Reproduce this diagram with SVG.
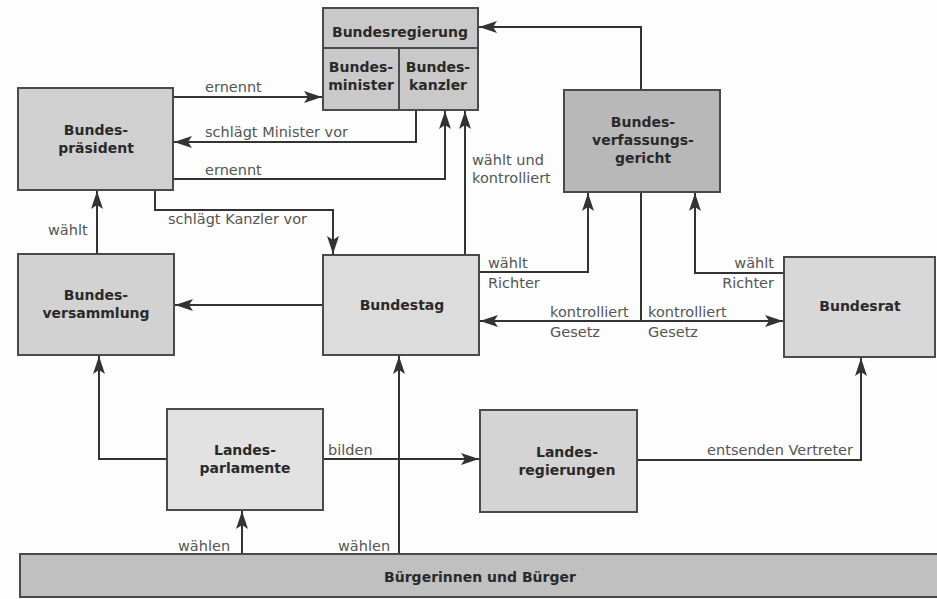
<svg xmlns="http://www.w3.org/2000/svg" width="937" height="599" viewBox="0 0 937 599">
<defs>
<marker id="ah" markerUnits="userSpaceOnUse" markerWidth="19" markerHeight="13" refX="18" refY="6.5" orient="auto">
<path d="M0,0.5 L18,6.5 L0,12.5 L4,6.5 z" fill="#333"/>
</marker>
<style>
.box{stroke:#4a4a4a;stroke-width:2}
.nt{font-family:"DejaVu Sans","Liberation Sans",sans-serif;font-weight:bold;font-size:14px;fill:#2a2a2a;text-anchor:middle}
.lb{font-family:"DejaVu Sans","Liberation Sans",sans-serif;font-size:14.5px;fill:#555}
.c{fill:none;stroke:#333;stroke-width:2;marker-end:url(#ah)}
</style>
</defs>
<rect width="937" height="599" fill="#fdfdfd"/>

<g id="connectors">
<path class="c" d="M173,97 H322"/>
<path class="c" d="M416,110 V142 H174"/>
<path class="c" d="M173,179 H445 V111"/>
<path class="c" d="M155,190 V210 H333 V254"/>
<path class="c" d="M97,254 V191"/>
<path class="c" d="M323,305 H175"/>
<path class="c" d="M465,255 V111"/>
<path class="c" d="M641,90 V27 H479"/>
<path class="c" d="M479,272 H588 V193"/>
<path class="c" d="M784,273 H695 V193"/>
<path class="c" d="M641,192 V321 H783"/>
<path class="c" d="M641,321 H480"/>
<path class="c" d="M167,459 H99 V356"/>
<path class="c" d="M323,459 H479"/>
<path class="c" d="M242,554 V511"/>
<path class="c" d="M399,554 V356"/>
<path class="c" d="M637,460 H861 V358"/>
<text class="lb" x="205" y="92">ernennt</text>
<text class="lb" x="205" y="137">schlägt Minister vor</text>
<text class="lb" x="205" y="175">ernennt</text>
<text class="lb" x="168" y="224">schlägt Kanzler vor</text>
<text class="lb" x="48" y="235">wählt</text>
<text class="lb" x="472" y="165">wählt und</text>
<text class="lb" x="472" y="183">kontrolliert</text>
<text class="lb" x="488" y="268">wählt</text>
<text class="lb" x="488" y="288">Richter</text>
<text class="lb" x="550" y="317">kontrolliert</text>
<text class="lb" x="550" y="337">Gesetz</text>
<text class="lb" x="648" y="317">kontrolliert</text>
<text class="lb" x="648" y="337">Gesetz</text>
<text class="lb" x="774" y="268" text-anchor="end">wählt</text>
<text class="lb" x="774" y="288" text-anchor="end">Richter</text>
<text class="lb" x="328" y="455">bilden</text>
<text class="lb" x="178" y="551">wählen</text>
<text class="lb" x="338" y="551">wählen</text>
<text class="lb" x="853" y="455" text-anchor="end">entsenden Vertreter</text>
</g>

<g id="bundesregierung">
<rect class="box" x="323" y="8" width="155" height="102" fill="#c9c9c9"/>
<line class="box" x1="323" y1="48" x2="478" y2="48"/>
<line class="box" x1="399" y1="48" x2="399" y2="110"/>
<text class="nt" x="400" y="37">Bundesregierung</text>
<text class="nt" x="361" y="72">Bundes-</text>
<text class="nt" x="361" y="90">minister</text>
<text class="nt" x="438" y="72">Bundes-</text>
<text class="nt" x="438" y="90">kanzler</text>
</g>

<g id="bundespraesident">
<rect class="box" x="18" y="88" width="155" height="102" fill="#d0d0d0"/>
<text class="nt" x="96" y="135">Bundes-</text>
<text class="nt" x="96" y="153">präsident</text>
</g>

<g id="bundesverfassungsgericht">
<rect class="box" x="564" y="90" width="156" height="102" fill="#b8b8b8"/>
<text class="nt" x="643" y="127">Bundes-</text>
<text class="nt" x="643" y="145">verfassungs-</text>
<text class="nt" x="643" y="163">gericht</text>
</g>

<g id="bundesversammlung">
<rect class="box" x="18" y="254" width="156" height="101" fill="#d2d2d2"/>
<text class="nt" x="96" y="300">Bundes-</text>
<text class="nt" x="96" y="318">versammlung</text>
</g>

<g id="bundestag">
<rect class="box" x="323" y="255" width="156" height="100" fill="#dcdcdc"/>
<text class="nt" x="402" y="310">Bundestag</text>
</g>

<g id="bundesrat">
<rect class="box" x="784" y="257" width="151" height="100" fill="#d8d8d8"/>
<text class="nt" x="860" y="311">Bundesrat</text>
</g>

<g id="landesparlamente">
<rect class="box" x="167" y="409" width="156" height="101" fill="#e2e2e2"/>
<text class="nt" x="245" y="455">Landes-</text>
<text class="nt" x="245" y="473">parlamente</text>
</g>

<g id="landesregierungen">
<rect class="box" x="480" y="410" width="157" height="102" fill="#d4d4d4"/>
<text class="nt" x="567" y="457">Landes-</text>
<text class="nt" x="567" y="475">regierungen</text>
</g>

<g id="buerger">
<rect class="box" x="20" y="554" width="918" height="43" fill="#c0c0c0"/>
<text class="nt" x="480" y="582">Bürgerinnen und Bürger</text>
</g>
</svg>
